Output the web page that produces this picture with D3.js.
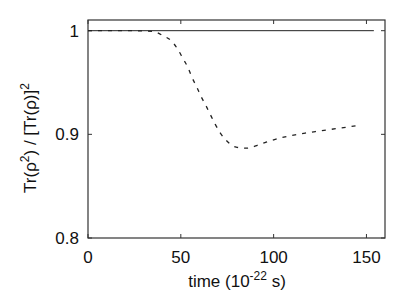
<!DOCTYPE html>
<html>
<head>
<meta charset="utf-8">
<script src="https://cdn.jsdelivr.net/npm/d3@7"></script>
<style>
  body { margin: 0; background: #fff; }
  text { font-family: "Liberation Sans", Arial, sans-serif; fill: #111; }
</style>
</head>
<body>
<svg id="chart" width="415" height="291"></svg>
<script>
const width = 415, height = 291;
const margin = {left: 88, right: 30, top: 20, bottom: 53};

// solid line: pure state stays at 1
const solidT = [0, 154];
const solidV = [1, 1];

// dashed line
const dashT = [0, 20, 35, 40.4, 45.3, 48.5, 51.2, 53.9, 56.1, 58.8, 60.9, 63.5, 65.9, 68.5,
  71.3, 75.1, 79.8, 85.6, 90.9, 96.0, 101.3, 106.2, 111.6, 117.0, 122.5, 128.1, 134.1, 139.8, 145.2];
const dashV = [1, 1, 0.9993, 0.9952, 0.9894, 0.9816, 0.9729, 0.9643, 0.9546, 0.9449, 0.9365, 0.9278,
  0.9191, 0.9099, 0.9012, 0.8930, 0.8876, 0.8867, 0.8892, 0.8925, 0.8954, 0.8976, 0.8995, 0.9012,
  0.9027, 0.9041, 0.9056, 0.9070, 0.9085];

const xTicks = [0, 50, 100, 150];
const yTicks = [0.8, 0.9, 1];
const yTickLabels = ['0.8', '0.9', '1'];

const svg = d3.select('#chart');

const x = d3.scaleLinear().domain([0, 160]).range([margin.left, width - margin.right]);
const y = d3.scaleLinear().domain([0.8, 1.0103]).range([height - margin.bottom, margin.top]);

const frameCol = '#333';

// frame
svg.append('rect')
  .attr('x', x(0)).attr('y', y(1.0103))
  .attr('width', x(160) - x(0)).attr('height', y(0.8) - y(1.0103))
  .attr('fill', 'none').attr('stroke', frameCol).attr('stroke-width', 1.2);

// inward ticks on all four sides
const tk = 4;
xTicks.forEach(t => {
  svg.append('line').attr('x1', x(t)).attr('x2', x(t))
    .attr('y1', y(0.8)).attr('y2', y(0.8) - tk).attr('stroke', frameCol);
  svg.append('line').attr('x1', x(t)).attr('x2', x(t))
    .attr('y1', y(1.0103)).attr('y2', y(1.0103) + tk).attr('stroke', frameCol);
  svg.append('text').attr('x', x(t)).attr('y', 263)
    .attr('text-anchor', 'middle').attr('font-size', 17).text(t);
});
yTicks.forEach((t, i) => {
  svg.append('line').attr('x1', x(0)).attr('x2', x(0) + tk)
    .attr('y1', y(t)).attr('y2', y(t)).attr('stroke', frameCol);
  svg.append('line').attr('x1', x(160)).attr('x2', x(160) - tk)
    .attr('y1', y(t)).attr('y2', y(t)).attr('stroke', frameCol);
  svg.append('text').attr('x', 79).attr('y', y(t) + 6)
    .attr('text-anchor', 'end').attr('font-size', 17).text(yTickLabels[i]);
});

const line = d3.line().x(d => x(d[0])).y(d => y(d[1]));

svg.append('path')
  .datum(solidT.map((t, i) => [t, solidV[i]]))
  .attr('d', line).attr('fill', 'none')
  .attr('stroke', '#222').attr('stroke-width', 1);

svg.append('path')
  .datum(dashT.map((t, i) => [t, dashV[i]]))
  .attr('d', d3.line().curve(d3.curveMonotoneX).x(d => x(d[0])).y(d => y(d[1])))
  .attr('fill', 'none')
  .attr('stroke', '#222').attr('stroke-width', 1.3)
  .attr('stroke-dasharray', '4,6');

// x title
const xt = svg.append('text').attr('x', 237).attr('y', 287)
  .attr('text-anchor', 'middle').attr('font-size', 17);
xt.append('tspan').text('time (10');
xt.append('tspan').attr('dy', -7).attr('font-size', 12).text('-22');
xt.append('tspan').attr('dy', 7).text(' s)');

// y title
const yt = svg.append('text')
  .attr('transform', 'translate(36,138) rotate(-90)')
  .attr('text-anchor', 'middle').attr('font-size', 17);
yt.append('tspan').text('Tr(ρ');
yt.append('tspan').attr('dy', -7).attr('font-size', 12).text('2');
yt.append('tspan').attr('dy', 7).text(') / [Tr(ρ)]');
yt.append('tspan').attr('dy', -7).attr('font-size', 12).text('2');
</script>
</body>
</html>
